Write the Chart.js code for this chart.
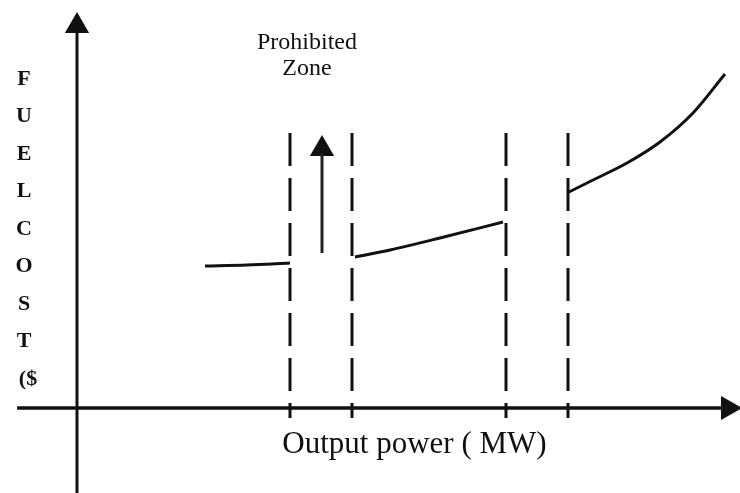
<!DOCTYPE html>
<html>
<head>
<meta charset="utf-8">
<script src="https://cdn.jsdelivr.net/npm/chart.js@4"></script>
<style>
  html, body { margin:0; padding:0; background:#fff; }
  #wrap { width:740px; height:493px; position:relative; }
</style>
</head>
<body>
<div id="wrap"><canvas id="chart-fuel"></canvas></div>
<script>
// ── Fuel cost curve with prohibited operating zones ──────────────────────
// x: output power (arbitrary MW units), y: fuel cost (arbitrary $ units)
const zoneBounds = [21.3, 27.5, 42.9, 49.1];
const dashTop = 27.5, dashBottom = -1.0;

const seg1X = [12.8, 17.0, 21.3];
const seg1Y = [14.2, 14.3, 14.5];
const seg2X = [27.8, 31.3, 36.3, 42.6];
const seg2Y = [15.1, 15.8, 17.0, 18.6];
const seg3X = [49.0, 51.6, 55.0, 58.3, 61.6, 64.8];
const seg3Y = [21.5, 22.8, 24.5, 26.6, 29.5, 33.4];

const arrowX = 24.5, arrowFrom = 15.5, arrowTo = 25.5, arrowHead = 25.9;
const xAxisFrom = -6.0, xAxisTo = 65.5, xHead = 65.1;
const yAxisFrom = -8.6, yAxisTo = 38.5, yHead = 38.2;

const yLetters = ['F','U','E','L','C','O','S','T','($'];
const zoneLabel = ['Prohibited', 'Zone'];
const xLabel = 'Output power ( MW)';

const INK = '#111';
const pts = (xs, ys) => xs.map((x, i) => ({ x, y: ys[i] }));

const line = (data, extra) => Object.assign({
  data, showLine:true, borderColor:INK, borderWidth:3, pointRadius:0,
  fill:false, tension:0
}, extra || {});

const head = (x, y, rot) => ({
  data:[{ x, y }], showLine:false, pointStyle:'triangle', rotation:rot,
  pointRadius:14, pointBackgroundColor:INK, pointBorderColor:INK, pointBorderWidth:0
});

const datasets = [
  line([{ x:xAxisFrom, y:0 }, { x:xAxisTo, y:0 }], { borderWidth:3.5 }),
  line([{ x:0, y:yAxisFrom }, { x:0, y:yAxisTo }]),
  head(xHead, 0, 90),
  head(0, yHead, 0),
  ...zoneBounds.map(b => line([{ x:b, y:dashTop }, { x:b, y:dashBottom }], { borderDash:[33,12], borderWidth:3 })),
  line(pts(seg1X, seg1Y), { cubicInterpolationMode:'monotone' }),
  line(pts(seg2X, seg2Y), { cubicInterpolationMode:'monotone' }),
  line(pts(seg3X, seg3Y), { cubicInterpolationMode:'monotone' }),
  line([{ x:arrowX, y:arrowFrom }, { x:arrowX, y:arrowTo }], { borderColor:'#222' }),
  head(arrowX, arrowHead, 0)
];

const labelsPlugin = {
  id:'labels',
  afterDatasetsDraw(chart) {
    const { ctx, scales:{ x, y } } = chart;
    ctx.save();
    ctx.fillStyle = INK;
    ctx.textAlign = 'center';
    ctx.textBaseline = 'alphabetic';

    // zone caption
    ctx.font = '24px "Liberation Serif", serif';
    ctx.fillText(zoneLabel[0], x.getPixelForValue(23.0), y.getPixelForValue(35.9));
    ctx.fillText(zoneLabel[1], x.getPixelForValue(23.0), y.getPixelForValue(33.3));

    // x axis title
    ctx.font = '31px "Liberation Serif", serif';
    ctx.fillText(xLabel, x.getPixelForValue(33.75), y.getPixelForValue(-4.5));

    // y axis title, one letter per row
    ctx.font = 'bold 22px "Liberation Serif", serif';
    ctx.textBaseline = 'middle';
    yLetters.forEach((ch, i) => {
      ctx.fillText(ch, i === yLetters.length - 1 ? 28 : 24, 79 + i * 37.5);
    });
    ctx.restore();
  }
};

new Chart(document.getElementById('chart-fuel'), {
  type:'scatter',
  data:{ datasets },
  options:{
    responsive:true, maintainAspectRatio:false, animation:false,
    layout:{ padding:0, autoPadding:false },
    plugins:{ legend:{ display:false }, tooltip:{ enabled:false } },
    scales:{
      x:{ type:'linear', display:false, min:-7.7, max:66.3 },
      y:{ type:'linear', display:false, min:-8.5, max:40.8 }
    }
  },
  plugins:[labelsPlugin]
});
</script>
</body>
</html>
